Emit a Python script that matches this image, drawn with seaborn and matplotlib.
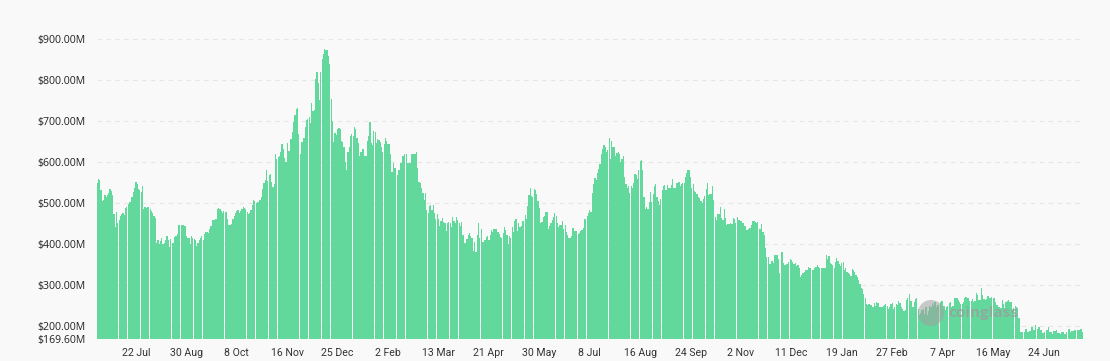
import numpy as np
import pandas as pd
import matplotlib
matplotlib.use("Agg")
import matplotlib.pyplot as plt
import seaborn as sns
from matplotlib.patches import Ellipse

# Daily open interest (USD millions), 22 Jun 2021 -> 24 Jul 2023
oi_2021 = [
    550, 558, 556, 532, 506, 508, 520, 515, 520, 526,
    534, 530, 519, 473, 443, 478, 451, 459, 468, 474,
    477, 471, 489, 490, 498, 504, 504, 515, 528, 536,
    552, 548, 534, 532, 528, 541, 485, 490, 488, 490,
    492, 487, 480, 477, 470, 463, 402, 410, 400, 408,
    416, 400, 404, 410, 419, 410, 393, 412, 402, 402,
    417, 421, 425, 447, 447, 446, 446, 446, 445, 420,
    416, 414, 400, 420, 416, 412, 410, 395, 404, 410,
    414, 419, 410, 425, 431, 429, 427, 436, 445, 459,
    459, 460, 461, 485, 488, 487,
    480, 475, 480, 479, 479, 461, 446, 447, 449, 461,
    469, 475, 480, 484, 475, 480, 487, 492, 489, 486,
    478, 473, 475, 483, 495, 508, 506, 500, 502, 504,
    508, 515, 535, 550, 557, 581, 555, 568,
    571, 553, 540, 546, 620, 607, 612, 616, 624, 644,
    633, 611, 601, 648, 628, 628, 656, 674, 697, 715,
    729, 733, 668, 620, 650, 650, 660, 685, 702, 705,
    711, 695, 745, 725, 728, 804, 819, 794, 752, 821,
    853, 865, 877, 873, 873, 858, 839, 755, 701, 650,
    671, 667, 680, 683, 682,
    652, 650, 638, 600,
]

oi_2022 = [
    581, 624, 638, 663, 670, 664,
    687, 682, 660, 648, 614, 624, 632, 632, 614, 615,
    652, 664, 697, 648, 641, 676, 674, 648, 656, 654,
    650, 638, 625, 644, 658, 652, 644, 644, 619, 576,
    597, 587, 587, 568, 581, 581, 597, 615, 614, 619,
    619, 597, 599, 599, 619, 619, 619, 619, 625, 587,
    552, 549, 538, 526, 508, 526, 484, 476, 493, 495,
    484, 495, 476, 461, 473, 461, 445, 457, 463, 454,
    453, 432, 451, 454, 451, 441, 467, 457, 453, 467,
    460, 453,
    445, 455, 422, 402, 402, 412, 422, 428, 420, 416,
    384, 405, 381, 422, 453, 414, 436, 405, 405, 410,
    418, 420, 410, 422, 435, 430, 436, 437, 438, 430,
    424, 418, 414, 428, 443, 435, 422, 400, 420, 416,
    443, 430, 457, 461, 432, 453, 443, 444, 457, 457,
    471, 462, 493, 520, 537, 518, 514, 535, 532, 523,
    505, 489, 451, 454, 466, 469, 479, 479, 438, 444,
    453, 459, 467, 477, 469, 453, 443, 448, 448, 457,
    438, 446, 430, 422, 414, 414, 420, 440, 432, 432,
    432, 424, 427,
    432, 434, 440, 462, 462, 470, 477, 483, 479, 526,
    546, 562, 557, 573, 584, 595, 619, 633, 643, 636,
    625, 629, 660, 607, 652, 636, 636, 614, 622, 624,
    621, 601, 609, 614, 563, 546, 538, 541, 526, 541,
    536, 549, 571, 568, 560, 581, 603, 606, 581, 516,
    487, 492, 487, 503, 528, 502, 522, 541, 546, 516,
    506, 495, 511, 533, 541, 544, 533, 544, 536, 536,
    544, 560, 538, 536, 549, 549, 553, 541, 546, 549,
    549, 565, 573, 581, 581, 565, 536, 546, 530, 528,
    522, 514, 512,
    506, 500, 511, 518, 534, 550, 520, 522, 522, 542,
    508, 467, 459, 473, 473, 492, 465, 459, 485, 463,
    446, 449, 449, 451, 449, 463, 461, 451, 467, 459,
    459, 457, 451, 451, 445, 435, 435, 438, 440, 446,
    457, 457, 454, 453, 454, 438, 437, 449, 430, 422,
    392, 368, 368, 351, 351, 359, 354, 373, 373, 373,
    363, 329, 381, 381, 354, 349, 351, 351, 357, 363,
    362, 357, 351, 354, 347, 349, 343, 321, 324, 329,
    332, 337, 337, 345, 343, 341, 337, 337, 341, 345,
    349,
]

oi_2023 = [
    345,
    341, 341, 343, 343, 343, 373, 363, 371, 354, 351,
    349, 343, 357, 367, 359, 351, 347, 355, 357, 337,
    341, 333, 329, 327, 323, 339, 337, 333, 324, 321,
    313, 302, 294, 290, 278, 268, 254, 251, 254, 251,
    251, 248, 256, 250, 258, 256, 248, 248, 246, 250,
    251, 254, 250, 243, 246, 254, 256, 242, 246, 254,
    251, 262, 256, 246, 242, 237, 240, 264, 268, 278,
    262, 262, 246, 259, 266, 269, 242, 227, 233, 240,
    243, 229, 246, 227, 237, 250, 248, 256, 251, 258,
    248, 251, 251,
    259, 262, 262, 250, 240, 246, 250, 256, 259, 246,
    250, 268, 270, 268, 264, 259, 254, 254, 259, 268,
    272, 270, 268, 262, 262, 266, 259, 262, 280, 276,
    264, 264, 294, 276, 266, 264, 266, 274, 270, 270,
    272, 270, 268, 260, 251, 248, 248, 245, 264, 255,
    245, 259, 262, 264, 258, 258, 240, 245, 250, 246,
    245, 221, 186, 186, 186, 186, 194, 194, 186, 189,
    189, 197, 191, 191, 202, 194, 197, 197, 191, 183,
    183, 186, 191, 191, 197, 186, 186, 180, 188, 189,
    191, 183, 183, 180, 186, 186, 180, 181, 186, 194,
    194, 185, 189, 189, 191, 191, 191, 191, 192, 193,
    186,
]

start_date = "2021-06-22"
y_ticks = [169.6, 200, 300, 400, 500, 600, 700, 800, 900]
first_tick_day = 30
tick_step_days = 39

values = oi_2021 + oi_2022 + oi_2023
dates = pd.date_range(start_date, periods=len(values), freq="D")
df = pd.DataFrame({"idx": np.arange(len(values)), "oi": values})

sns.set_theme(style="white")
plt.rcParams["font.family"] = ["Open Sans", "DejaVu Sans"]

W, H = 1110, 361
bg = "#f9f9f9"
fig = plt.figure(figsize=(W / 100, H / 100), dpi=100, facecolor=bg)
ax_left, ax_right = 96.5, 1083.0
ax_bottom_px = 338.7
ymin, ymax = 169.6, 930
px_per_unit = 0.41
ax_h = (ymax - ymin) * px_per_unit
ax = fig.add_axes([ax_left / W, 1 - ax_bottom_px / H, (ax_right - ax_left) / W, ax_h / H])
ax.set_facecolor(bg)

sns.barplot(data=df, x="idx", y="oi", color="#63d89d", saturation=1,
            width=0.93, linewidth=0, errorbar=None, ax=ax, zorder=2)

ax.set_xlim(-0.5, len(values) - 0.5)
ax.set_ylim(ymin, ymax)
ax.set_yticks(y_ticks)
ax.set_yticklabels([f"${v:.2f}M" for v in y_ticks], fontsize=7.6, color="#222222")

tick_pos = list(range(first_tick_day, len(values), tick_step_days))
ax.set_xticks(tick_pos)
ax.set_xticklabels([f"{dates[p].day} {dates[p].strftime('%b')}" for p in tick_pos],
                   fontsize=7.6, color="#333333", family=["Roboto", "DejaVu Sans"])
ax.tick_params(axis="both", length=0)
ax.tick_params(axis="y", pad=8)
ax.tick_params(axis="x", pad=7)
ax.set_xlabel("")
ax.set_ylabel("")
for s in ax.spines.values():
    s.set_visible(False)

ax.yaxis.grid(True, linestyle=(0, (4, 4)), color="#e6e6e6", linewidth=0.8, zorder=0)
ax.set_axisbelow(True)

# watermark
fig.patches.append(Ellipse((931 / W, 1 - 313 / H), 26 / W, 26 / H,
                           transform=fig.transFigure, facecolor="#a0a0a0",
                           alpha=0.55, edgecolor="none", zorder=10))
fig.text(948 / W, 1 - 313 / H, "coinglass", fontsize=11, color="#9c9c9c",
         alpha=0.75, weight="bold", va="center", ha="left", zorder=11)

fig.savefig("out.png", dpi=100, facecolor=bg)
